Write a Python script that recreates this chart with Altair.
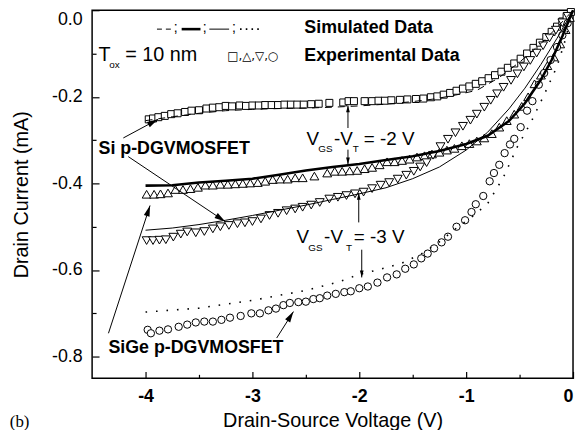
import altair as alt
import pandas as pd

# ---------------- data ----------------
# Experimental: squares
sq_x = [-3.97, -3.93, -3.88, -3.82, -3.76, -3.70, -3.63, -3.57, -3.50, -3.43, -3.37, -3.31, -3.25, -3.19,
        -3.12, -3.06, -3.00, -2.94, -2.88, -2.82, -2.76, -2.70, -2.64, -2.58, -2.52, -2.45, -2.38, -2.28,
        -2.15, -2.10, -2.05, -1.95, -1.88, -1.82, -1.76, -1.70, -1.62, -1.55, -1.47, -1.40, -1.33, -1.27,
        -1.21, -1.15, -1.09, -1.03, -0.97, -0.91, -0.85, -0.79, -0.73, -0.67, -0.61, -0.55, -0.49, -0.43,
        -0.37, -0.31, -0.25, -0.20, -0.15, -0.10, -0.06, -0.02]
sq_y = [-0.252, -0.250, -0.247, -0.244, -0.240, -0.238, -0.235, -0.232, -0.231, -0.227, -0.225, -0.224,
        -0.221, -0.222, -0.220, -0.221, -0.220, -0.220, -0.219, -0.219, -0.219, -0.218, -0.218, -0.218,
        -0.218, -0.217, -0.216, -0.214, -0.213, -0.210, -0.210, -0.210, -0.210, -0.209, -0.209, -0.208,
        -0.207, -0.206, -0.205, -0.204, -0.201, -0.199, -0.195, -0.191, -0.186, -0.181, -0.176, -0.170,
        -0.164, -0.157, -0.150, -0.142, -0.133, -0.123, -0.112, -0.100, -0.087, -0.075, -0.062, -0.050,
        -0.038, -0.026, -0.015, -0.004]

# Experimental: up triangles
up_x = [-3.99, -3.92, -3.86, -3.79, -3.72, -3.65, -3.58, -3.51, -3.44, -3.37, -3.30, -3.23, -3.16, -3.09,
        -3.02, -2.95, -2.88, -2.81, -2.74, -2.67, -2.60, -2.53, -2.42, -2.30, -2.23, -2.16, -2.09, -2.02,
        -1.95, -1.88, -1.81, -1.74, -1.67, -1.60, -1.53, -1.46, -1.39, -1.32, -1.25, -1.18, -1.11, -1.04,
        -0.97, -0.90, -0.83, -0.76, -0.69, -0.62, -0.55, -0.48, -0.42, -0.36, -0.30, -0.24, -0.18, -0.12,
        -0.07, -0.03]
up_y = [-0.425, -0.425, -0.424, -0.422, -0.414, -0.414, -0.412, -0.409, -0.404, -0.404, -0.402, -0.402,
        -0.401, -0.400, -0.399, -0.398, -0.395, -0.391, -0.390, -0.390, -0.387, -0.387, -0.383, -0.376,
        -0.372, -0.372, -0.371, -0.370, -0.366, -0.363, -0.357, -0.350, -0.350, -0.347, -0.344, -0.339,
        -0.336, -0.332, -0.328, -0.323, -0.319, -0.313, -0.308, -0.302, -0.295, -0.285, -0.270, -0.255,
        -0.240, -0.222, -0.200, -0.170, -0.150, -0.128, -0.108, -0.078, -0.045, -0.017]

# Experimental: down triangles
dn_x = [-3.99, -3.93, -3.87, -3.81, -3.74, -3.67, -3.61, -3.53, -3.45, -3.37, -3.30, -3.22, -3.14, -3.07,
        -3.00, -2.92, -2.84, -2.76, -2.68, -2.60, -2.53, -2.45, -2.37, -2.28, -2.20, -2.12, -2.04, -1.96,
        -1.88, -1.80, -1.72, -1.64, -1.56, -1.49, -1.43, -1.37, -1.31, -1.24, -1.17, -1.10, -1.03, -0.96,
        -0.90, -0.83, -0.77, -0.71, -0.65, -0.58, -0.52, -0.46, -0.40, -0.34, -0.28, -0.22, -0.16, -0.10,
        -0.05]
dn_y = [-0.532, -0.532, -0.531, -0.530, -0.524, -0.517, -0.512, -0.514, -0.511, -0.505, -0.500, -0.497,
        -0.493, -0.491, -0.488, -0.482, -0.474, -0.469, -0.463, -0.459, -0.455, -0.450, -0.444, -0.436,
        -0.432, -0.428, -0.424, -0.420, -0.412, -0.404, -0.398, -0.390, -0.381, -0.372, -0.362, -0.352,
        -0.335, -0.315, -0.298, -0.283, -0.268, -0.254, -0.240, -0.224, -0.208, -0.193, -0.178, -0.162,
        -0.147, -0.131, -0.116, -0.099, -0.082, -0.064, -0.046, -0.029, -0.014]

# Experimental: circles
ci_x = [-3.98, -3.95, -3.87, -3.79, -3.69, -3.61, -3.53, -3.45, -3.37, -3.29, -3.21, -3.11, -3.01, -2.93,
        -2.85, -2.78, -2.71, -2.65, -2.57, -2.50, -2.43, -2.37, -2.30, -2.22, -2.14, -2.08, -2.00, -1.92,
        -1.83, -1.74, -1.65, -1.57, -1.49, -1.42, -1.36, -1.30, -1.23, -1.17, -1.09, -1.01, -0.95, -0.91,
        -0.84, -0.78, -0.74, -0.69, -0.64, -0.59, -0.55, -0.49, -0.43, -0.38, -0.32, -0.27, -0.21, -0.15,
        -0.10, -0.05]
ci_y = [-0.738, -0.746, -0.740, -0.737, -0.731, -0.726, -0.721, -0.719, -0.719, -0.715, -0.710, -0.706,
        -0.700, -0.700, -0.693, -0.689, -0.681, -0.676, -0.674, -0.673, -0.667, -0.665, -0.659, -0.655,
        -0.651, -0.649, -0.642, -0.638, -0.629, -0.617, -0.610, -0.597, -0.587, -0.573, -0.562, -0.550,
        -0.536, -0.523, -0.500, -0.485, -0.466, -0.448, -0.429, -0.395, -0.376, -0.357, -0.330, -0.310,
        -0.297, -0.270, -0.232, -0.210, -0.172, -0.145, -0.115, -0.085, -0.058, -0.030]

# Simulated curves
dash_x = [-4.0, -3.75, -3.5, -3.25, -3.0, -2.75, -2.5, -2.25, -2.0, -1.75, -1.5, -1.3, -1.1, -0.9, -0.7,
          -0.5, -0.3, -0.15, 0.0]
dash_y = [-0.255, -0.246, -0.238, -0.232, -0.229, -0.227, -0.226, -0.224, -0.221, -0.217, -0.211, -0.205,
          -0.196, -0.185, -0.157, -0.120, -0.077, -0.040, 0.0]

thick_x = [-4.0, -3.75, -3.5, -3.25, -3.0, -2.75, -2.5, -2.25, -2.0, -1.75, -1.5, -1.25, -1.0, -0.8, -0.6,
           -0.45, -0.3, -0.2, -0.1, 0.0]
thick_y = [-0.405, -0.404, -0.398, -0.394, -0.389, -0.380, -0.370, -0.362, -0.355, -0.346, -0.337, -0.325,
           -0.309, -0.290, -0.256, -0.215, -0.160, -0.115, -0.060, 0.0]

thin_x = [-4.0, -3.75, -3.5, -3.25, -3.0, -2.75, -2.5, -2.25, -2.0, -1.75, -1.5, -1.25, -1.0, -0.8, -0.6,
          -0.45, -0.3, -0.15, 0.0]
thin_y = [-0.508, -0.503, -0.495, -0.485, -0.474, -0.462, -0.450, -0.437, -0.424, -0.410, -0.389, -0.362,
          -0.323, -0.282, -0.228, -0.180, -0.125, -0.065, 0.0]

dot_x = [-4.0, -3.5, -3.0, -2.5, -2.2, -2.0, -1.8, -1.6, -1.4, -1.25, -1.1, -0.95, -0.8, -0.65, -0.52,
         -0.4, -0.27, -0.15, -0.08, 0.0]
dot_y = [-0.697, -0.688, -0.670, -0.647, -0.628, -0.610, -0.598, -0.584, -0.560, -0.535, -0.505, -0.478,
         -0.447, -0.385, -0.315, -0.262, -0.195, -0.130, -0.075, 0.0]

# Axis ticks
x_major = [-4, -3, -2, -1, 0]
x_minor = [-3.5, -2.5, -1.5, -0.5]
y_major = [0.0, -0.2, -0.4, -0.6, -0.8]
y_minor = [-0.1, -0.3, -0.5, -0.7]

# Annotation texts
bold_text = ["Simulated Data", "Experimental Data", "Si p-DGVMOSFET", "SiGe p-DGVMOSFET"]
reg_text = ["V", "-V", "= -2 V", "V", "-V", "= -3 V"]
tox_text = ["T", "= 10 nm"]
sub_text = ["ox", "GS", "T", "GS", "T"]
semi_text = [";", ";", ";"]
marker_text = ["\u25a1,\u25b3,\u25bd,\u25cb"]
panel_text = ["(b)"]

# ---------------- layout of annotations (data coordinates) ----------------
bold_pos = [(-2.514, -0.041), (-2.514, -0.105), (-4.44, -0.320), (-4.347, -0.780)]
reg_pos = [(-2.495, -0.297), (-2.236, -0.297), (-1.958, -0.297),
           (-2.588, -0.524), (-2.329, -0.524), (-2.051, -0.524)]
tox_pos = [(-4.44, -0.103), (-4.19, -0.103)]
sub_pos = [(-4.34, -0.127), (-2.384, -0.320), (-2.060, -0.320), (-2.477, -0.549), (-2.125, -0.549)]
semi_pos = [(-3.735, -0.041), (-3.465, -0.041), (-3.190, -0.041)]
marker_pos = [(-3.236, -0.105)]
panel_pos = [(-5.27, -0.950)]

# legend sample lines
leg_dash = [(-3.893, -3.745)]
leg_thick = [(-3.662, -3.486)]
leg_thin = [(-3.403, -3.218)]
leg_dot = [(-3.116, -2.931)]
leg_y = -0.0437

# arrows: start (x, y) -> tip (x2, y2), screen angle of head
arrows_big = [(-4.208, -0.295, -3.884, -0.252, 61.5),
              (-4.162, -0.338, -3.255, -0.488, 124.0),
              (-4.347, -0.746, -3.958, -0.451, 17.9),
              (-2.773, -0.757, -2.616, -0.696, 32.2)]
arrows_small = [(-2.106, -0.272, -2.106, -0.220, 0.0),
                (-2.106, -0.322, -2.106, -0.356, 180.0),
                (-2.005, -0.490, -2.005, -0.422, 0.0),
                (-1.977, -0.553, -1.977, -0.617, 180.0)]

# ---------------- chart ----------------
W, H = 486, 372
FONT = "Liberation Sans"
xs = alt.Scale(domain=[-4.5, 0], nice=False, zero=False)
ys = alt.Scale(domain=[-0.85, 0], nice=False, zero=False)


def pts(xv, yv):
    return pd.DataFrame({"x": xv, "y": yv})


def X(axis=None, field="x"):
    return alt.X(f"{field}:Q", scale=xs, axis=axis)


def Y(axis=None, field="y"):
    return alt.Y(f"{field}:Q", scale=ys, axis=axis)


x_lab_axis = alt.Axis(values=x_major, orient="bottom", ticks=False, tickSize=0, domain=False, grid=False,
                      labelExpr="datum.value == 0 ? '0' : '-' + format(abs(datum.value), 'd')",
                      labelFont=FONT, labelFontSize=18, labelFontWeight="bold", labelColor="black",
                      labelPadding=9, labelFlush=True, title="Drain-Source Voltage (V)",
                      titleFont=FONT, titleFontSize=20, titleFontWeight="normal", titleColor="black",
                      titlePadding=6)
y_lab_axis = alt.Axis(values=y_major, orient="left", ticks=False, tickSize=0, domain=False, grid=False,
                      labelExpr="datum.value == 0 ? '0.0' : '-' + format(abs(datum.value), '.1f')",
                      labelFont=FONT, labelFontSize=18, labelFontWeight="normal", labelColor="black",
                      labelPadding=10, labelFlush=True, title="Drain Current (mA)",
                      titleFont=FONT, titleFontSize=20, titleFontWeight="normal", titleColor="black",
                      titlePadding=20)


def tick_axis(values, orient, offset, size):
    return alt.Axis(values=values, orient=orient, offset=offset, labels=False, domain=False, grid=False,
                    ticks=True, tickSize=size, tickColor="black", tickWidth=1.2, title=None)


def markers(xv, yv, shape, size, xaxis=None, yaxis=None):
    return alt.Chart(pts(xv, yv)).mark_point(
        shape=shape, size=size, filled=True, fill="white", stroke="black", strokeWidth=1,
        opacity=1, fillOpacity=1).encode(x=X(xaxis), y=Y(yaxis))


def curve(xv, yv, width, dash=None):
    kw = dict(color="black", strokeWidth=width)
    if dash:
        kw["strokeDash"] = dash
    return alt.Chart(pts(xv, yv)).mark_line(**kw).encode(x=X(), y=Y())


sq = markers(sq_x, sq_y, "square", 50, x_lab_axis, y_lab_axis)
up = markers(up_x, up_y, "triangle-up", 80,
             tick_axis(x_major, "top", -H, 7), tick_axis(y_major, "right", -W, 7))
dn = markers(dn_x, dn_y, "triangle-down", 80,
             tick_axis(x_minor, "top", -H, 4), tick_axis(y_minor, "right", -W, 4))
ci = markers(ci_x, ci_y, "circle", 55)

l_dash = curve(dash_x, dash_y, 1, [7, 6])
l_thick = curve(thick_x, thick_y, 2.6)
l_thin = curve(thin_x, thin_y, 1)
l_dot = curve(dot_x, dot_y, 1.6, [1.6, 9])


def leg_rule(seg, width, dash=None):
    d = pd.DataFrame({"x": [s[0] for s in seg], "x2": [s[1] for s in seg], "y": [leg_y] * len(seg)})
    kw = dict(color="black", strokeWidth=width)
    if dash:
        kw["strokeDash"] = dash
    return alt.Chart(d).mark_rule(**kw).encode(x=X(), x2="x2:Q", y=Y())


legs = [leg_rule(leg_dash, 1, [5, 4]), leg_rule(leg_thick, 2.6), leg_rule(leg_thin, 1),
        leg_rule(leg_dot, 1.6, [1.6, 4.2])]


def texts(labels, pos, size, weight="normal", font=FONT):
    d = pd.DataFrame({"t": labels, "x": [p[0] for p in pos], "y": [p[1] for p in pos]})
    return alt.Chart(d).mark_text(align="left", baseline="middle", font=font, fontSize=size,
                                  fontWeight=weight, color="black").encode(x=X(), y=Y(), text="t:N")


txt = [texts(bold_text, bold_pos, 18, "bold"),
       texts(reg_text, reg_pos, 19),
       texts(tox_text, tox_pos, 20),
       texts(sub_text, sub_pos, 10),
       texts(semi_text, semi_pos, 14),
       texts(marker_text, marker_pos, 12, font="DejaVu Sans"),
       texts(panel_text, panel_pos, 17, font="Liberation Serif")]

HEAD = "M0,0L0.6,2.2L-0.6,2.2Z"


def arrows(lst, size):
    d = pd.DataFrame({"x": [a[0] for a in lst], "y": [a[1] for a in lst],
                      "x2": [a[2] for a in lst], "y2": [a[3] for a in lst],
                      "ang": [a[4] for a in lst]})
    line = alt.Chart(d).mark_rule(color="black", strokeWidth=1).encode(
        x=X(), y=Y(), x2="x2:Q", y2="y2:Q")
    head = alt.Chart(d).mark_point(shape=HEAD, size=size, filled=True, color="black", opacity=1).encode(
        x=X(field="x2"), y=Y(field="y2"), angle=alt.Angle("ang:Q", scale=None))
    return [line, head]


arr = arrows(arrows_big, 100) + arrows(arrows_small, 40)

chart = alt.layer(sq, up, dn, ci, l_dash, l_thick, l_thin, l_dot, *legs, *txt, *arr).resolve_axis(
    x="independent", y="independent"
).properties(
    width=W, height=H,
    autosize=alt.AutoSizeParams(type="none"),
    padding={"left": 85, "top": 0, "right": 2, "bottom": 50},
    background="white",
).configure_view(stroke="black", strokeWidth=1.5)

chart.save("out.html", embed_options={"renderer": "svg", "actions": False})
